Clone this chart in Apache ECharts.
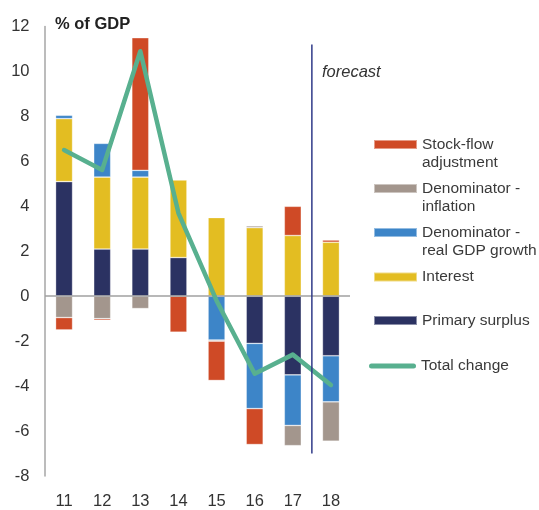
<!DOCTYPE html>
<html>
<head>
<meta charset="utf-8">
<script src="https://cdn.jsdelivr.net/npm/echarts@6/dist/echarts.min.js"></script>
<style>
html,body{margin:0;padding:0;background:#fff;}
#chart{width:539px;height:510px;}
</style>
</head>
<body>
<div id="chart"></div>
<script>
var categories = ['11','12','13','14','15','16','17','18'];
var primarySurplus = [5.1, 2.1, 2.1, 1.72, 0, -2.1, -3.5, -2.65];
var interest = [2.8, 3.2, 3.2, 3.45, 3.5, 3.05, 2.7, 2.4];
var realGdpGrowth = [0.15, 1.5, 0.3, 0.03, -1.95, -2.9, -2.25, -2.05];
var inflation = [-0.95, -1.0, -0.55, 0.03, -0.05, 0.08, -0.9, -1.75];
var stockFlow = [-0.55, -0.07, 5.9, -1.6, -1.75, -1.6, 1.3, 0.1];
var totalChange = [6.5, 5.62, 10.9, 3.7, -0.2, -3.45, -2.6, -3.95];
var yTicks = [-8, -6, -4, -2, 0, 2, 4, 6, 8, 10, 12];
var forecastLineX = [7, 7];
var forecastLineY = [11.2, -7.0];

var FONT = '"Liberation Sans", Arial, sans-serif';
var colors = {
  sfa: '#cf4a26',
  infl: '#a3968d',
  gdp: '#3d85c8',
  interest: '#e3bd22',
  primary: '#2b3262',
  total: '#58b08f'
};
var border = { borderColor: 'rgba(255,255,255,0.45)', borderWidth: 0.7 };

function bar(name, data, color) {
  return {
    name: name, type: 'bar', stack: 'a', data: data, barWidth: 17,
    itemStyle: Object.assign({ color: color }, border),
    emphasis: { disabled: true }
  };
}

var series = [
  bar('Primary surplus', primarySurplus, colors.primary),
  bar('Interest', interest, colors.interest),
  bar('Denominator - real GDP growth', realGdpGrowth, colors.gdp),
  bar('Denominator - inflation', inflation, colors.infl),
  bar('Stock-flow adjustment', stockFlow, colors.sfa),
  {
    name: 'Total change', type: 'line', data: totalChange, symbol: 'none',
    lineStyle: { color: colors.total, width: 4.5, cap: 'round', join: 'round' },
    itemStyle: { color: colors.total },
    z: 5,
    markLine: {
      silent: true, symbol: ['none', 'none'], label: { show: false },
      lineStyle: { color: '#a0a0a0', width: 1.5, type: 'solid' },
      data: [{ yAxis: 0 }]
    }
  },
  {
    name: 'forecastLine', type: 'line', xAxisIndex: 1, symbol: 'none',
    data: [[forecastLineX[0], forecastLineY[0]], [forecastLineX[1], forecastLineY[1]]],
    lineStyle: { color: '#2f3a88', width: 1.5 }, z: 6, silent: true
  }
];

var legendTextStyle = { fontFamily: FONT, fontSize: 15.5, color: '#3a3a3a', lineHeight: 18 };
var capsule = 'path://M2.5,0 L44.5,0 A2.5,2.5 0 0 1 44.5,5 L2.5,5 A2.5,2.5 0 0 1 2.5,0 Z';
function legendFor(name, top, label, isLine) {
  var lg = {
    data: [name], orient: 'vertical', left: isLine ? 369 : 373, top: top, padding: 0,
    icon: isLine ? capsule : 'rect',
    itemWidth: isLine ? 47 : 43, itemHeight: isLine ? 5 : 9, itemGap: 0,
    textStyle: legendTextStyle, selectedMode: false,
    formatter: function () { return label; }
  };
  if (isLine) {
    lg.itemStyle = { color: colors.total, borderWidth: 0 };
    lg.lineStyle = { width: 0 };
  }
  return lg;
}

var option = {
  animation: false,
  color: [colors.primary, colors.interest, colors.gdp, colors.infl, colors.sfa, colors.total],
  grid: { left: 45, right: 189, top: 26.5, bottom: 27, containLabel: false },
  xAxis: [{
    type: 'category', data: categories, position: 'bottom',
    axisLine: { show: false, onZero: false }, axisTick: { show: false },
    axisLabel: { fontFamily: FONT, fontSize: 16.5, color: '#333', margin: 17 }
  }, {
    type: 'value', min: 0, max: 8, show: false
  }],
  yAxis: {
    type: 'value', min: yTicks[0], max: yTicks[yTicks.length - 1], interval: 2,
    splitLine: { show: false }, axisTick: { show: false },
    axisLine: { show: true, lineStyle: { color: '#a6a6a6', width: 1.5 } },
    axisLabel: { fontFamily: FONT, fontSize: 16.5, color: '#333', margin: 15.5 }
  },
  legend: [
    legendFor('Stock-flow adjustment', 117.5, '\nStock-flow\nadjustment'),
    legendFor('Denominator - inflation', 161.5, '\nDenominator -\ninflation'),
    legendFor('Denominator - real GDP growth', 205.5, '\nDenominator -\nreal GDP growth'),
    legendFor('Interest', 268, 'Interest'),
    legendFor('Primary surplus', 311.5, 'Primary surplus'),
    legendFor('Total change', 357, 'Total change', true)
  ],
  graphic: [
    { type: 'text', left: 55, top: 16, style: { text: '% of GDP', font: 'bold 16.5px "Liberation Sans", Arial, sans-serif', fill: '#222' } },
    { type: 'text', left: 322, top: 64, style: { text: 'forecast', font: 'italic 16.5px "Liberation Sans", Arial, sans-serif', fill: '#333' } }
  ],
  series: series
};

var chart = echarts.init(document.getElementById('chart'), null, { renderer: 'canvas' });
chart.setOption(option);
</script>
</body>
</html>
